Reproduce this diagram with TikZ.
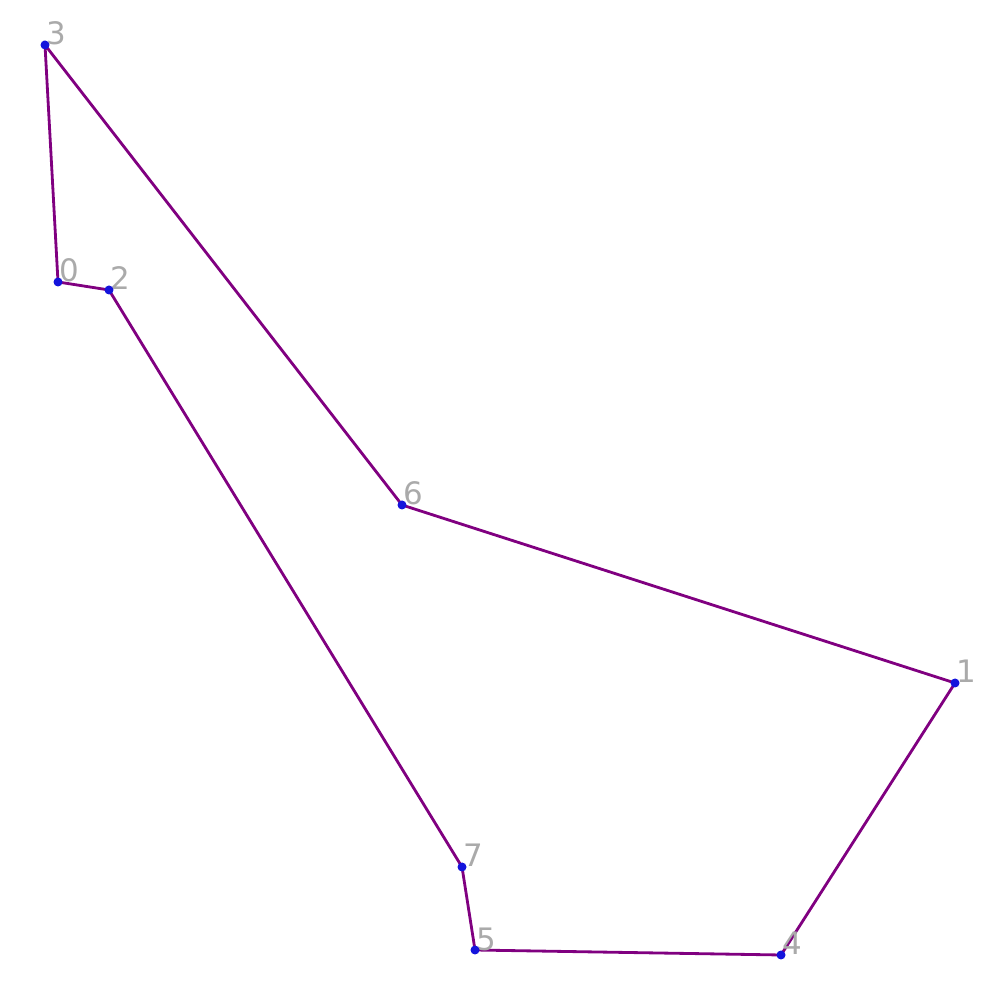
\documentclass[tikz,border=0pt]{standalone}
\usepackage{fontspec}
\setmainfont{DejaVu Sans}
\usepackage{tikz}
\usetikzlibrary{calc}
\definecolor{edgepurple}{RGB}{128,0,128}
\definecolor{labelgray}{RGB}{170,170,170}
\definecolor{dotblue}{RGB}{20,20,220}
\tikzset{
	edge/.style={draw=edgepurple, line width=0.8pt},
	idx/.style={anchor=base west, inner sep=0pt, text=labelgray, font=\fontsize{8.8}{10}\selectfont}
}
\begin{document}
\begin{tikzpicture}
			
			\useasboundingbox (0,0) rectangle (10,10);
			
			\coordinate (P0) at (0.58,7.18);
			\coordinate (P1) at (9.55,3.17);
			\coordinate (P2) at (1.09,7.10);
			\coordinate (P3) at (0.45,9.55);
			\coordinate (P4) at (7.81,0.45);
			\coordinate (P5) at (4.75,0.50);
			\coordinate (P6) at (4.02,4.95);
			\coordinate (P7) at (4.62,1.33);
			
			\draw[edge] (P0)--(P2)--(P7)--(P5)--(P4)--(P1)--(P6)--(P3)--cycle;
			
			\foreach \i in {0,...,7}{
				\node[idx] (L\i) at ($(P\i)+(0.01,0.0)$) {\i};
				\fill[dotblue] (P\i) circle (0.045);
			}
			
		\end{tikzpicture}
\end{document}
